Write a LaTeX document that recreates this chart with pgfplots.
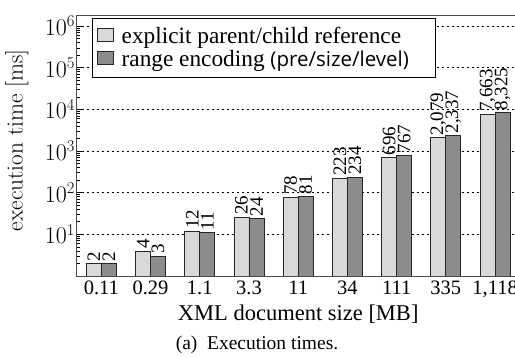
\documentclass[border=0pt]{standalone}
\usepackage{fontspec}
\usepackage{pgfplots}
\pgfplotsset{compat=1.18}
\newfontfamily\tnr{Liberation Serif}
\newfontfamily\osans{Open Sans}
\definecolor{barlight}{HTML}{D9D9D9}
\definecolor{bardark}{HTML}{8C8C8C}
\newcommand{\fs}[1]{\fontsize{#1}{#1}\selectfont}
\newcommand{\ex}[1]{10\raisebox{0.36em}{\fs{16.5}#1}}
\begin{document}
\begin{tikzpicture}
\useasboundingbox (0pt,0pt) rectangle (515pt,358pt);
\begin{axis}[
  at={(76.7pt,82pt)}, anchor=south west,
  scale only axis, width=443pt, height=261pt,
  ymode=log, ymin=1, ymax=1.84e6,
  xmin=-0.5, xmax=8.5,
  ybar=0pt, bar width=15pt,
  xtick={0,1,2,3,4,5,6,7,8},
  xticklabels={0.11,0.29,1.1,3.3,11,34,111,335,{1,118}},
  xticklabel style={font=\tnr\fs{20.5}, anchor=base, yshift=-18.3pt},
  xtick style={draw=none},
  ytick={10,100,1000,10000,100000,1000000},
  yticklabels={\ex{1},\ex{2},\ex{3},\ex{4},\ex{5},\ex{6}},
  yticklabel style={font=\fs{24}, inner xsep=2pt},
  minor ytick={2,3,4,5,6,7,8,9,20,30,40,50,60,70,80,90,200,300,400,500,600,700,800,900,2000,3000,4000,5000,6000,7000,8000,9000,20000,30000,40000,50000,60000,70000,80000,90000,200000,300000,400000,500000,600000,700000,800000,900000},
  ytick pos=left, tick align=inside,
  major tick length=5pt, minor tick length=3pt,
  tick style={black, line width=0.6pt},
  ymajorgrids,
  major grid style={black, line width=0.6pt, dash pattern=on 2.5pt off 2.5pt},
  axis line style={black!70, line width=0.8pt},
  ylabel={execution time [ms]},
  ylabel style={font=\fs{23.3}, at={(axis description cs:-0.135,0.52)}, anchor=center},
  xlabel={XML document size [MB]},
  xlabel style={font=\tnr\fs{22.5}, at={(axis description cs:0.5,-0.171)}, anchor=base},
  nodes near coords,
  point meta=explicit symbolic,
  every node near coord/.append style={rotate=90, anchor=west, font=\tnr\fs{19}, inner sep=2pt, black},
  legend style={at={(0.0345,0.9885)}, anchor=north west, font=\tnr\fs{23.3}, draw=black, line width=0.8pt, inner xsep=4.5pt, inner ysep=7pt, row sep=1pt, cells={anchor=west}},
  legend image code/.code={\draw[#1, line width=0.8pt] (0pt,-5.5pt) rectangle (16pt,7.5pt);},
]
\addplot[fill=barlight, draw=black!85, line width=0.8pt] coordinates {
  (0,2) [2] (1,4) [4] (2,12) [12] (3,26) [26] (4,78) [78]
  (5,223) [223] (6,696) [696] (7,2079) [2{,}079] (8,7663) [7{,}663]};
\addplot[fill=bardark, draw=black!85, line width=0.8pt] coordinates {
  (0,2) [2] (1,3) [3] (2,11) [11] (3,24) [24] (4,81) [81]
  (5,234) [234] (6,767) [767] (7,2337) [2{,}337] (8,8325) [8{,}325]};
\legend{\rule{6pt}{0pt}explicit parent/child reference, \rule{6pt}{0pt}range encoding {\osans\fs{20.5}(pre/size/level)}\rule{20pt}{0pt}}
\end{axis}
\node[anchor=base, font=\tnr\fs{19.5}] at (257pt,8pt) {(a)\hspace{0.5em}Execution times.};
\end{tikzpicture}
\end{document}
